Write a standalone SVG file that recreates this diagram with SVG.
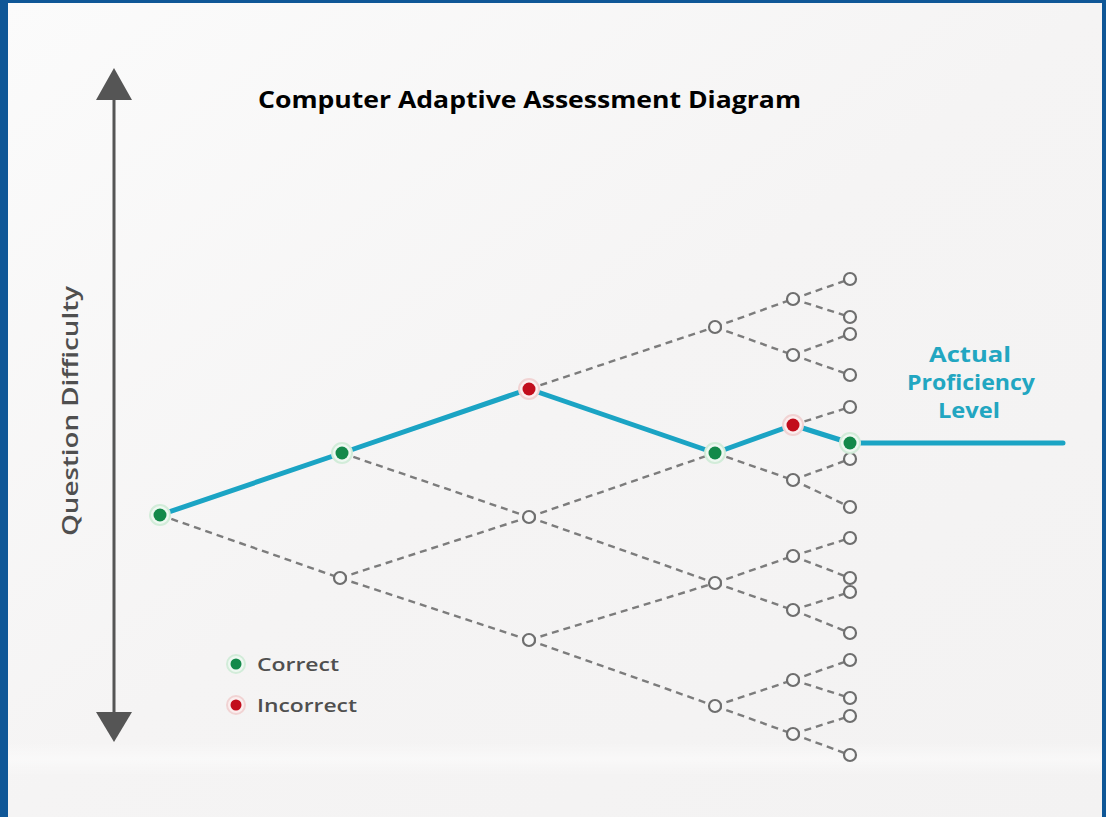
<svg xmlns="http://www.w3.org/2000/svg" width="1106" height="817" viewBox="0 0 1106 817">
<defs>
<linearGradient id="bg" x1="0" y1="0" x2="1" y2="1">
<stop offset="0" stop-color="#fbfbfb"/>
<stop offset="0.5" stop-color="#f5f4f4"/>
<stop offset="1" stop-color="#f3f2f2"/>
</linearGradient>
<linearGradient id="streak" x1="0" y1="0" x2="0" y2="1">
<stop offset="0" stop-color="#ffffff" stop-opacity="0"/>
<stop offset="0.5" stop-color="#ffffff" stop-opacity="0.45"/>
<stop offset="1" stop-color="#ffffff" stop-opacity="0"/>
</linearGradient>
<style>
.dash{fill:none;stroke:#7c7c7c;stroke-width:2.4;stroke-dasharray:7 5}
.open{fill:#f7f7f7;stroke:#6e6e6e;stroke-width:2.2}
.path{fill:none;stroke:#1ba4c4;stroke-width:5;stroke-linejoin:round;stroke-linecap:round}
.haloG{fill:#eef8f1;stroke:#d2ecd9;stroke-width:2}
.haloR{fill:#fbeeee;stroke:#f1d3d3;stroke-width:2}
.green{fill:#13894a}
.red{fill:#c20d1c}
.axis{stroke:#555;stroke-width:3}
.head{fill:#555}
.lbl{font-family:"Open Sans","Liberation Sans",sans-serif;fill:#4f4f4f;font-weight:600}
.apl{font-family:"Open Sans","Liberation Sans",sans-serif;font-weight:bold;fill:#22a6c1;font-size:22px;text-anchor:middle}
</style>
</defs>
<rect x="0" y="0" width="1106" height="817" fill="url(#bg)"/>
<rect x="0" y="742" width="1106" height="34" fill="url(#streak)"/>
<rect x="0" y="0" width="1106" height="3" fill="#0f5797"/>
<rect x="0" y="0" width="8" height="817" fill="#0f5797"/>
<rect x="1102" y="0" width="4" height="817" fill="#0f5797"/>

<text x="258" y="108" font-family="'Open Sans','Liberation Sans',sans-serif" font-weight="bold" font-size="24" fill="#000" textLength="543" lengthAdjust="spacingAndGlyphs">Computer Adaptive Assessment Diagram</text>

<g id="axis">
<line x1="114" y1="98" x2="114" y2="714" class="axis"/>
<polygon points="114,68 96,100 132,100" class="head"/>
<polygon points="114,742 96,712 132,712" class="head"/>
<text class="lbl" font-size="21" transform="translate(78,411) rotate(-90)" text-anchor="middle" textLength="250" lengthAdjust="spacingAndGlyphs">Question Difficulty</text>
</g>

<g id="connectors">
<path class="dash" d="M160,515 L340,578"/>
<path class="dash" d="M342,453 L529,517"/>
<path class="dash" d="M340,578 L529,517 M340,578 L529,640"/>
<path class="dash" d="M529,389 L715,327"/>
<path class="dash" d="M529,517 L715,453 M529,517 L715,583"/>
<path class="dash" d="M529,640 L715,583 M529,640 L715,706"/>
<path class="dash" d="M715,327 L793,299 M715,327 L793,355"/>
<path class="dash" d="M715,453 L793,480"/>
<path class="dash" d="M715,583 L793,556 M715,583 L793,610"/>
<path class="dash" d="M715,706 L793,680 M715,706 L793,734"/>
<path class="dash" d="M793,299 L850,279 M793,299 L850,317"/>
<path class="dash" d="M793,355 L850,334 M793,355 L850,375"/>
<path class="dash" d="M793,425 L850,407"/>
<path class="dash" d="M793,480 L850,459 M793,480 L850,507"/>
<path class="dash" d="M793,556 L850,538 M793,556 L850,578"/>
<path class="dash" d="M793,610 L850,592 M793,610 L850,633"/>
<path class="dash" d="M793,680 L850,660 M793,680 L850,698"/>
<path class="dash" d="M793,734 L850,716 M793,734 L850,755"/>
<path class="path" d="M160,515 L342,453 L529,389 L715,453 L793,425 L850,443 L1063,443"/>
</g>

<g id="open-nodes">
<circle class="open" cx="340" cy="578" r="6"/>
<circle class="open" cx="529" cy="517" r="6"/>
<circle class="open" cx="529" cy="640" r="6"/>
<circle class="open" cx="715" cy="327" r="6"/>
<circle class="open" cx="715" cy="583" r="6"/>
<circle class="open" cx="715" cy="706" r="6"/>
<circle class="open" cx="793" cy="299" r="6"/>
<circle class="open" cx="793" cy="355" r="6"/>
<circle class="open" cx="793" cy="480" r="6"/>
<circle class="open" cx="793" cy="556" r="6"/>
<circle class="open" cx="793" cy="610" r="6"/>
<circle class="open" cx="793" cy="680" r="6"/>
<circle class="open" cx="793" cy="734" r="6"/>
<circle class="open" cx="850" cy="279" r="6"/>
<circle class="open" cx="850" cy="317" r="6"/>
<circle class="open" cx="850" cy="334" r="6"/>
<circle class="open" cx="850" cy="375" r="6"/>
<circle class="open" cx="850" cy="407" r="6"/>
<circle class="open" cx="850" cy="459" r="6"/>
<circle class="open" cx="850" cy="507" r="6"/>
<circle class="open" cx="850" cy="538" r="6"/>
<circle class="open" cx="850" cy="578" r="6"/>
<circle class="open" cx="850" cy="592" r="6"/>
<circle class="open" cx="850" cy="633" r="6"/>
<circle class="open" cx="850" cy="660" r="6"/>
<circle class="open" cx="850" cy="698" r="6"/>
<circle class="open" cx="850" cy="716" r="6"/>
<circle class="open" cx="850" cy="755" r="6"/>
</g>

<g id="node-q1"><circle class="haloG" cx="160" cy="515" r="10"/><circle class="green" cx="160" cy="515" r="6.5"/></g>
<g id="node-q2"><circle class="haloG" cx="342" cy="453" r="10"/><circle class="green" cx="342" cy="453" r="6.5"/></g>
<g id="node-q3"><circle class="haloR" cx="529" cy="389" r="10"/><circle class="red" cx="529" cy="389" r="6.5"/></g>
<g id="node-q4"><circle class="haloG" cx="715" cy="453" r="10"/><circle class="green" cx="715" cy="453" r="6.5"/></g>
<g id="node-q5"><circle class="haloR" cx="793" cy="425" r="10"/><circle class="red" cx="793" cy="425" r="6.5"/></g>
<g id="node-q6"><circle class="haloG" cx="850" cy="443" r="10"/><circle class="green" cx="850" cy="443" r="6.5"/></g>

<g id="proficiency-label">
<text class="apl" x="970" y="362" textLength="82" lengthAdjust="spacingAndGlyphs">Actual</text>
<text class="apl" x="971" y="390" textLength="128" lengthAdjust="spacingAndGlyphs">Proficiency</text>
<text class="apl" x="969" y="418" textLength="62" lengthAdjust="spacingAndGlyphs">Level</text>
</g>

<g id="legend">
<circle class="haloG" cx="236" cy="664" r="9"/><circle class="green" cx="236" cy="664" r="5.5"/>
<text class="lbl" x="257" y="671" font-size="18" textLength="82" lengthAdjust="spacingAndGlyphs">Correct</text>
<circle class="haloR" cx="236" cy="705" r="9"/><circle class="red" cx="236" cy="705" r="5.5"/>
<text class="lbl" x="257" y="712" font-size="18" textLength="100" lengthAdjust="spacingAndGlyphs">Incorrect</text>
</g>
</svg>
